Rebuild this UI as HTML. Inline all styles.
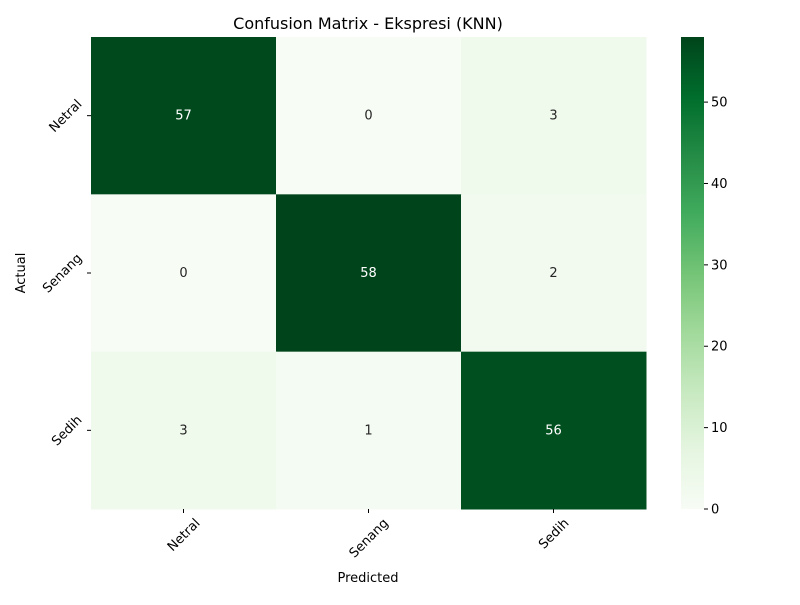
<!DOCTYPE html>
<html><head><meta charset="utf-8"><style>
body{margin:0;background:#fff;}
svg text{font-family:"DejaVu Sans","Liberation Sans",sans-serif;}
</style></head><body>
<svg id="c" width="800" height="600" xmlns="http://www.w3.org/2000/svg">
<defs><linearGradient id="g" x1="0" y1="1" x2="0" y2="0">
<stop offset="0" stop-color="#f7fcf5"/><stop offset="0.125" stop-color="#e5f5e0"/><stop offset="0.25" stop-color="#c7e9c0"/><stop offset="0.375" stop-color="#a1d99b"/><stop offset="0.5" stop-color="#74c476"/><stop offset="0.625" stop-color="#41ab5d"/><stop offset="0.75" stop-color="#238b45"/><stop offset="0.875" stop-color="#006d2c"/><stop offset="1" stop-color="#00441b"/></linearGradient></defs>
<text x="368" y="29" font-size="16" text-anchor="middle">Confusion Matrix - Ekspresi (KNN)</text>
<g id="cells"></g>
<rect x="681" y="37" width="23" height="472" fill="url(#g)"/>
<g id="cb"></g>
<text x="368" y="582" font-size="13" text-anchor="middle">Predicted</text>
<text x="25" y="273" font-size="13" text-anchor="middle" transform="rotate(-90 25 273)">Actual</text>
</svg>
<script>
const labels=["Netral","Senang","Sedih"];
const matrix=[[57,0,3],[0,58,2],[3,1,56]];
const cbTicks=[0,10,20,30,40,50];
const vmax=58;
const NS="http://www.w3.org/2000/svg";
const X0=91,Y0=37,W=555,H=472;
const cw=W/3,ch=H/3;
const stops=["#f7fcf5","#e5f5e0","#c7e9c0","#a1d99b","#74c476","#41ab5d","#238b45","#006d2c","#00441b"];
function col(v){let t=Math.max(0,Math.min(1,v/vmax))*8;let i=Math.min(7,Math.floor(t)),f=t-i;
const a=stops[i],b=stops[i+1];const p=k=>parseInt(a.substr(k,2),16)*(1-f)+parseInt(b.substr(k,2),16)*f;
return `rgb(${p(1)|0},${p(3)|0},${p(5)|0})`;}
function mk(tag,at,par){const e=document.createElementNS(NS,tag);for(const k in at)e.setAttribute(k,at[k]);par.appendChild(e);return e;}
const g=document.getElementById('cells'),svg=document.getElementById('c'),cb=document.getElementById('cb');
matrix.forEach((row,r)=>row.forEach((v,c)=>{
const rc=mk('rect',{x:X0+c*cw,y:Y0+r*ch,width:cw+0.5,height:ch+0.5,fill:col(v)},g);


const t=mk('text',{x:X0+(c+0.5)*cw,y:Y0+(r+0.5)*ch+4,'font-size':13,'text-anchor':'middle',fill:v>vmax/2?'#fff':'#262626'},g);
t.textContent=v;


}));
labels.forEach((l,i)=>{
const x=X0+(i+0.5)*cw;
mk('line',{x1:x,y1:509,x2:x,y2:513,stroke:'#000'},svg);
const t=mk('text',{x:x,y:0,'font-size':13,'text-anchor':'middle'},svg);
t.textContent=l;


let w=t.getComputedTextLength();let hb=(w+13)*0.354;
let cy=516+hb;
t.setAttribute('y',cy+4.5);t.setAttribute('transform',`rotate(-45 ${x} ${cy})`);
const y=Y0+(i+0.5)*ch;
mk('line',{x1:87,y1:y,x2:91,y2:y,stroke:'#000'},svg);
const u=mk('text',{x:0,y:y+4.5,'font-size':13,'text-anchor':'middle'},svg);
u.textContent=l;


let w2=u.getComputedTextLength();let cx=84-(w2+13)*0.354;
u.setAttribute('x',cx);u.setAttribute('transform',`rotate(-45 ${cx} ${y})`);
});
cbTicks.forEach(v=>{
const y=509-v/vmax*472;
mk('line',{x1:704,y1:y,x2:708,y2:y,stroke:'#000'},cb);
const t=mk('text',{x:711,y:y+4.5,'font-size':13},cb);
t.textContent=v;


});
</script>
</body></html>
